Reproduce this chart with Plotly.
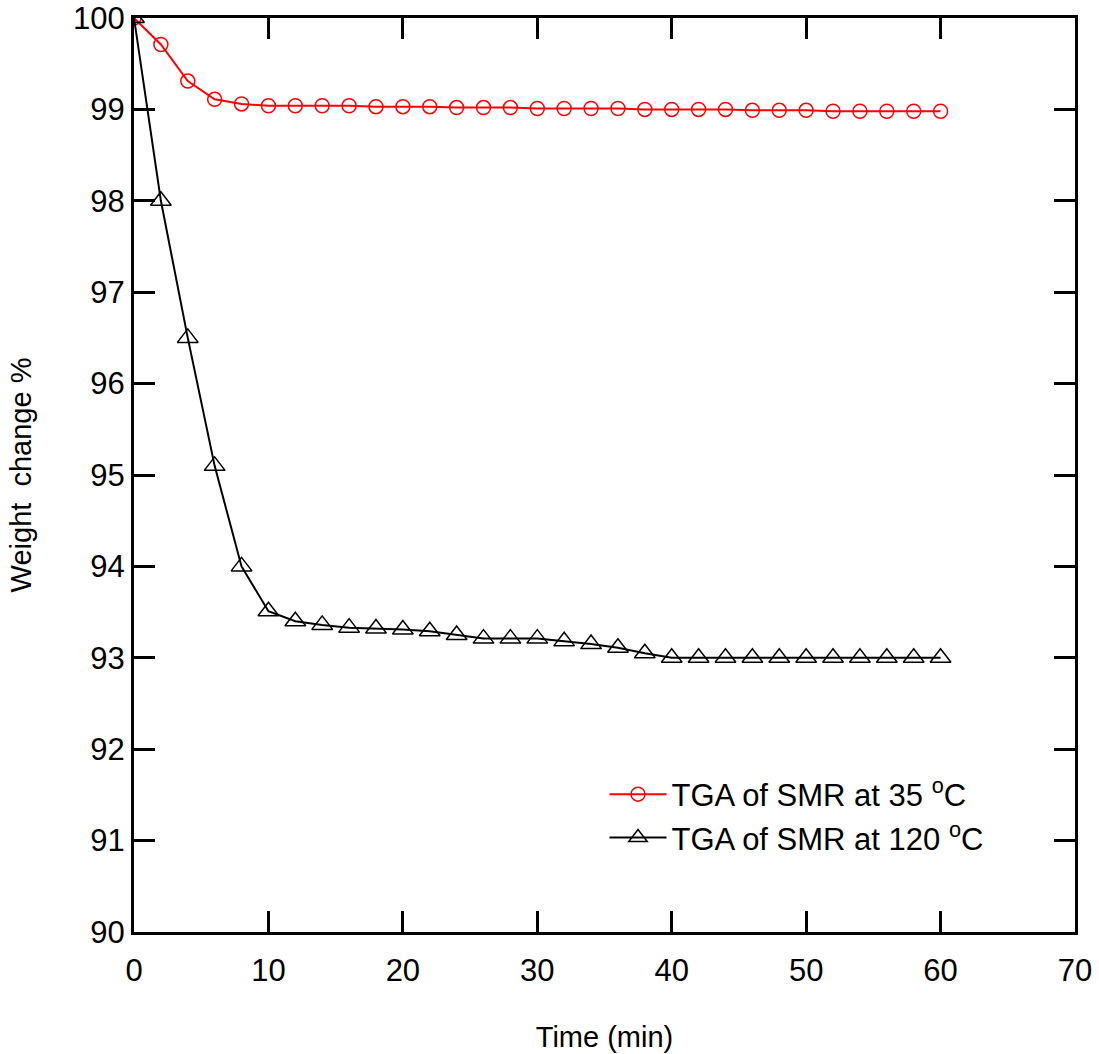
import plotly.graph_objects as go

time_min = [0, 2, 4, 6, 8, 10, 12, 14, 16, 18, 20, 22, 24, 26, 28, 30,
            32, 34, 36, 38, 40, 42, 44, 46, 48, 50, 52, 54, 56, 58, 60]

tga_35 = [100.0, 99.71, 99.31, 99.11, 99.06, 99.04, 99.04, 99.04, 99.04, 99.03,
          99.03, 99.03, 99.02, 99.02, 99.02, 99.01, 99.01, 99.01, 99.01, 99.00,
          99.00, 99.00, 99.00, 98.99, 98.99, 98.99, 98.98, 98.98, 98.98, 98.98, 98.98]

tga_120 = [100.0, 98.0, 96.5, 95.1, 94.0, 93.51, 93.40, 93.36, 93.33, 93.32,
           93.31, 93.29, 93.25, 93.21, 93.21, 93.21, 93.18, 93.15, 93.11, 93.05,
           93.0, 93.0, 93.0, 93.0, 93.0, 93.0, 93.0, 93.0, 93.0, 93.0, 93.0]

x_ticks = [0, 10, 20, 30, 40, 50, 60, 70]
y_ticks = [90, 91, 92, 93, 94, 95, 96, 97, 98, 99, 100]

FONT = "Arial, Liberation Sans, sans-serif"

fig = go.Figure()
fig.add_trace(go.Scatter(
    x=time_min, y=tga_35, mode="lines+markers",
    name="TGA of SMR at 35 <sup>o</sup>C",
    line=dict(color="#ff0000", width=2),
    marker=dict(symbol="circle-open", size=14, color="#ff0000", line=dict(width=1.5)),
))
fig.add_trace(go.Scatter(
    x=time_min, y=tga_120, mode="lines+markers",
    name="TGA of SMR at 120 <sup>o</sup>C",
    line=dict(color="#000000", width=2),
    marker=dict(symbol="triangle-up-open", size=18, color="#000000", line=dict(width=1.5)),
))

axis_common = dict(
    showline=True, linecolor="black", linewidth=3, mirror="ticks",
    ticks="inside", ticklen=21, tickwidth=3, tickcolor="black",
    showgrid=False, zeroline=False, automargin=False,
    tickfont=dict(family=FONT, size=31, color="black"),
)

fig.update_xaxes(
    range=[0, 70], tickvals=x_ticks, ticktext=[str(v) for v in x_ticks],
    title=dict(text="Time (min)", font=dict(family=FONT, size=29, color="black"), standoff=40),
    ticklabelstandoff=9,
    **axis_common,
)
fig.update_yaxes(
    range=[90, 100], tickvals=y_ticks, ticktext=[str(v) for v in y_ticks],
    title=dict(text="Weight\u00a0\u00a0change %", font=dict(family=FONT, size=29, color="black"), standoff=33),
    ticklabelstandoff=0,
    **axis_common,
)

fig.update_layout(
    width=1099, height=1054,
    margin=dict(l=134, r=24, t=18, b=122, autoexpand=False),
    paper_bgcolor="white", plot_bgcolor="white",
    font=dict(family=FONT, size=29, color="black"),
    legend=dict(
        x=0.5, y=0.18, xanchor="left", yanchor="top",
        bgcolor="rgba(0,0,0,0)", borderwidth=0,
        font=dict(family=FONT, size=31, color="black"),
        itemwidth=57, tracegroupgap=0,
    ),
    showlegend=True,
)

fig.write_html("out.html")
